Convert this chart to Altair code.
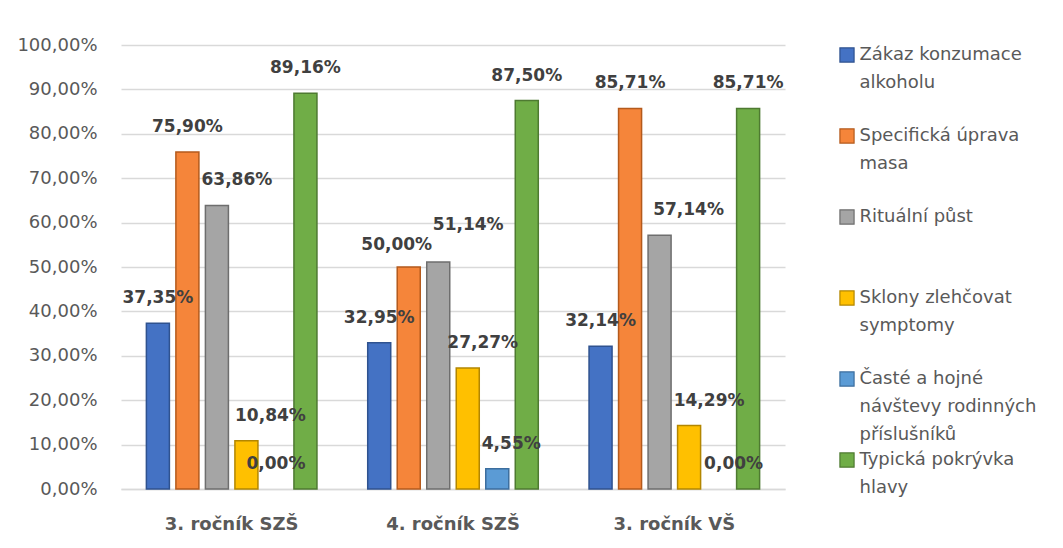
import altair as alt
import pandas as pd

groups = ["3. ročník SZŠ", "4. ročník SZŠ", "3. ročník VŠ"]
series = [
    "Zákaz konzumace alkoholu",
    "Specifická úprava masa",
    "Rituální půst",
    "Sklony zlehčovat symptomy",
    "Časté a hojné návštevy rodinných příslušníků",
    "Typická pokrývka hlavy",
]
legend_text = [
    "Zákaz konzumace\nalkoholu",
    "Specifická úprava\nmasa",
    "Rituální půst",
    "Sklony zlehčovat\nsymptomy",
    "Časté a hojné\nnávštevy rodinných\npříslušníků",
    "Typická pokrývka\nhlavy",
]
values_szs3 = [37.35, 75.90, 63.86, 10.84, 0.00, 89.16]
values_szs4 = [32.95, 50.00, 51.14, 27.27, 4.55, 87.50]
values_vs3 = [32.14, 85.71, 57.14, 14.29, 0.00, 85.71]
all_values = [values_szs3, values_szs4, values_vs3]

colors = ["#4472C4", "#F5853A", "#A5A5A5", "#FFC000", "#5B9BD5", "#70AD47"]
strokes = ["#2F528F", "#B45A1C", "#6E6E6E", "#B38600", "#3C6E9E", "#4E7A31"]

# manual label nudges (pixels), like Excel's dragged data labels
label_dx = [[0, 0, 20, 24, 0, 0], [0, -12, 30, 15, 14, 0], [0, 0, 29, 20, 15, 0]]
label_dy = [[0, 0, 0, 0, 0, 0], [0, 3, -12, 0, 0, 0], [0, 0, 0, 0, 0, 0]]

rows = []
for gi, g in enumerate(groups):
    for si, s in enumerate(series):
        rows.append({
            "group": g, "series": s, "value": all_values[gi][si],
            "ldx": label_dx[gi][si], "ldy": label_dy[gi][si],
        })
df = pd.DataFrame(rows)

FONT = "DejaVu Sans"
TXT = "#595959"

x_enc = alt.X("group:N", sort=groups, title=None,
              scale=alt.Scale(paddingInner=0.2, paddingOuter=0.1),
              axis=alt.Axis(labelFontWeight="bold", labelFontSize=18, labelColor=TXT,
                            labelFont=FONT, ticks=False, domainColor="#D9D9D9",
                            domainWidth=1.3, labelPadding=26, labelAngle=0))
xoff_enc = alt.XOffset("series:N", sort=series,
                       scale=alt.Scale(paddingInner=0.22, paddingOuter=0.11))
y_enc = alt.Y("value:Q", title=None,
              scale=alt.Scale(domain=[0, 100]),
              axis=alt.Axis(values=list(range(0, 101, 10)), domain=False, ticks=False,
                            labelExpr="replace(format(datum.value, '.2f'), '.', ',') + '%'",
                            labelFontSize=18, labelColor=TXT, labelFont=FONT,
                            labelPadding=24, gridColor="#D9D9D9", gridWidth=1.3))
color_enc = alt.Color("series:N", sort=series,
                      scale=alt.Scale(domain=series, range=colors), legend=None)
stroke_enc = alt.Stroke("series:N", sort=series,
                        scale=alt.Scale(domain=series, range=strokes), legend=None)

base = alt.Chart(df).encode(x=x_enc, xOffset=xoff_enc, y=y_enc)

bars = (base.transform_filter("datum.value > 0")
        .mark_bar(strokeWidth=1.5).encode(color=color_enc, stroke=stroke_enc))

layers = [bars]
pairs = sorted(set((r["ldx"], r["ldy"]) for r in rows))
for dx, dy in pairs:
    t = (base.transform_filter(f"datum.ldx == {dx} && datum.ldy == {dy}")
         .transform_calculate(lbl="replace(format(datum.value, '.2f'), '.', ',') + '%'")
         .mark_text(dx=dx, dy=-25 + dy, baseline="middle", align="center",
                    fontSize=17, fontWeight="bold", font=FONT, color="#404040")
         .encode(text="lbl:N"))
    layers.append(t)

main = alt.layer(*layers).properties(width=664, height=444)

leg_df = pd.DataFrame({"series": series, "text": legend_text})
leg_y = alt.Y("series:N", sort=series, axis=None,
              scale=alt.Scale(type="point", padding=0.123))
leg_sq = alt.Chart(leg_df).mark_square(size=200, opacity=1, strokeWidth=1.2).encode(
    x=alt.value(8), y=leg_y,
    color=alt.Color("series:N", sort=series, scale=alt.Scale(domain=series, range=colors), legend=None),
    stroke=alt.Stroke("series:N", sort=series, scale=alt.Scale(domain=series, range=strokes), legend=None),
)
leg_tx = alt.Chart(leg_df).mark_text(align="left", baseline="line-top", dy=-14,
                                     lineBreak="\n", lineHeight=28, fontSize=18,
                                     font=FONT, color=TXT).encode(
    x=alt.value(20.5), y=leg_y, text="text:N")
legend = alt.layer(leg_sq, leg_tx).properties(width=190, height=425)

chart = (alt.hconcat(main, legend, spacing=52)
         .properties(padding={"left": 8, "top": 28, "right": 0, "bottom": 0},
                     background="white")
         .configure_view(stroke=None, strokeWidth=0))

chart.save("out.html", embed_options={"renderer": "svg", "actions": False})
